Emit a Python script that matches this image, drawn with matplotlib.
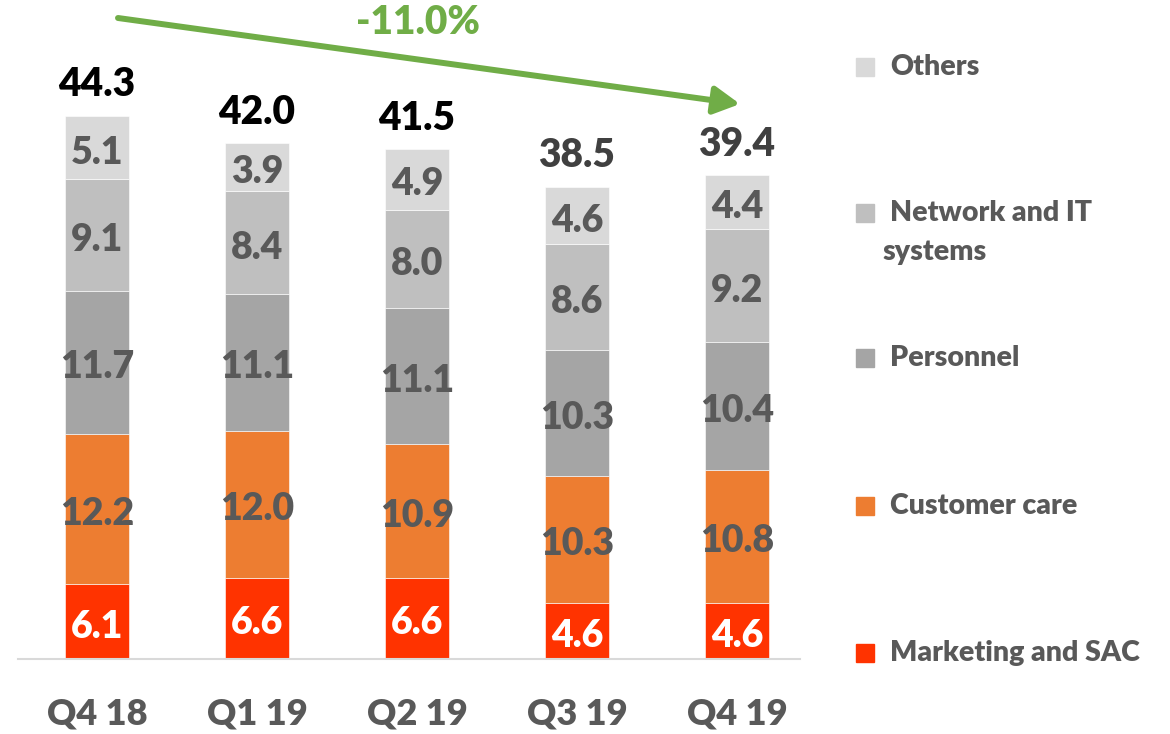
import matplotlib
matplotlib.use("Agg")
import matplotlib.pyplot as plt
from matplotlib.patches import FancyArrowPatch
import numpy as np

categories = ["Q4 18", "Q1 19", "Q2 19", "Q3 19", "Q4 19"]
marketing = [6.1, 6.6, 6.6, 4.6, 4.6]
customer_care = [12.2, 12.0, 10.9, 10.3, 10.8]
personnel = [11.7, 11.1, 11.1, 10.3, 10.4]
network_it = [9.1, 8.4, 8.0, 8.6, 9.2]
others = [5.1, 3.9, 4.9, 4.6, 4.4]
totals = [44.3, 42.0, 41.5, 38.5, 39.4]
change_label = "-11.0%"

series = [
    ("Marketing and SAC", marketing, "#FF3300", "white"),
    ("Customer care", customer_care, "#ED7D31", "#595959"),
    ("Personnel", personnel, "#A5A5A5", "#595959"),
    ("Network and IT\nsystems", network_it, "#BFBFBF", "#595959"),
    ("Others", others, "#D9D9D9", "#595959"),
]
total_colors = ["black", "black", "black", "#404040", "#404040"]

plt.rcParams['font.family'] = ['Lato', 'DejaVu Sans']
FW = "heavy"
W, H = 1170, 734
fig = plt.figure(figsize=(W / 100, H / 100), dpi=100)
ax = fig.add_axes([18 / W, 75 / H, 782 / W, 614 / H])

x = np.arange(len(categories))
bottom = np.zeros(len(categories))
for name, vals, col, tcol in series:
    vals = np.array(vals)
    ax.bar(x, vals, 0.4, bottom=bottom, color=col, edgecolor="white", linewidth=0.4)
    for xi, b, v in zip(x, bottom, vals):
        ax.annotate(f"{v:.1f}", (xi, b + v / 2), xytext=(0, -5), textcoords="offset pixels",
                    ha="center", va="center", fontsize=27, fontweight=FW, color=tcol)
    bottom += vals

for xi, t, c in zip(x, totals, total_colors):
    ax.annotate(f"{t:.1f}", (xi, t), xytext=(0, 12), textcoords="offset pixels",
                ha="center", va="bottom", fontsize=28, fontweight=FW, color=c,
                annotation_clip=False)

ax.set_xlim(-0.494, 4.394)
ax.set_ylim(0, 50)
for s in ["top", "right", "left"]:
    ax.spines[s].set_visible(False)
ax.spines["bottom"].set_color("#D9D9D9")
ax.spines["bottom"].set_linewidth(1.5)
ax.set_yticks([])
ax.set_xticks(x)
ax.set_xticklabels(categories, fontsize=26, fontweight=FW, color="#595959")
ax.tick_params(axis="x", length=0, pad=28)

# trend arrow
arr = FancyArrowPatch((118, H - 18), (740, H - 104), transform=None,
                      arrowstyle="-|>,head_length=0.78,head_width=0.42",
                      mutation_scale=20, color="#70AD47", linewidth=4.3,
                      shrinkA=0, shrinkB=0)
fig.patches.append(arr)
fig.text(418 / W, 1 - 22 / H, change_label, ha="center", va="center",
         fontsize=28, fontweight=FW, color="#70AD47")

# legend
leg_y = [653, 506, 358, 213, 67]
for (name, vals, col, tcol), yy in zip(series, leg_y):
    fig.patches.append(plt.Rectangle((856 / W, 1 - (yy + 9) / H), 18 / W, 18 / H,
                                     transform=fig.transFigure, color=col))
    if "\n" in name:
        l1, l2 = name.split("\n")
        fig.text(890 / W, 1 - yy / H, l1, ha="left", va="center", fontsize=20.5,
                 fontweight=FW, color="#595959")
        fig.text(882 / W, 1 - (yy + 39) / H, l2, ha="left", va="center", fontsize=20.5,
                 fontweight=FW, color="#595959")
    else:
        fig.text(890 / W, 1 - yy / H, name, ha="left", va="center", fontsize=20.5,
                 fontweight=FW, color="#595959")

fig.savefig("out.png", dpi=100)
